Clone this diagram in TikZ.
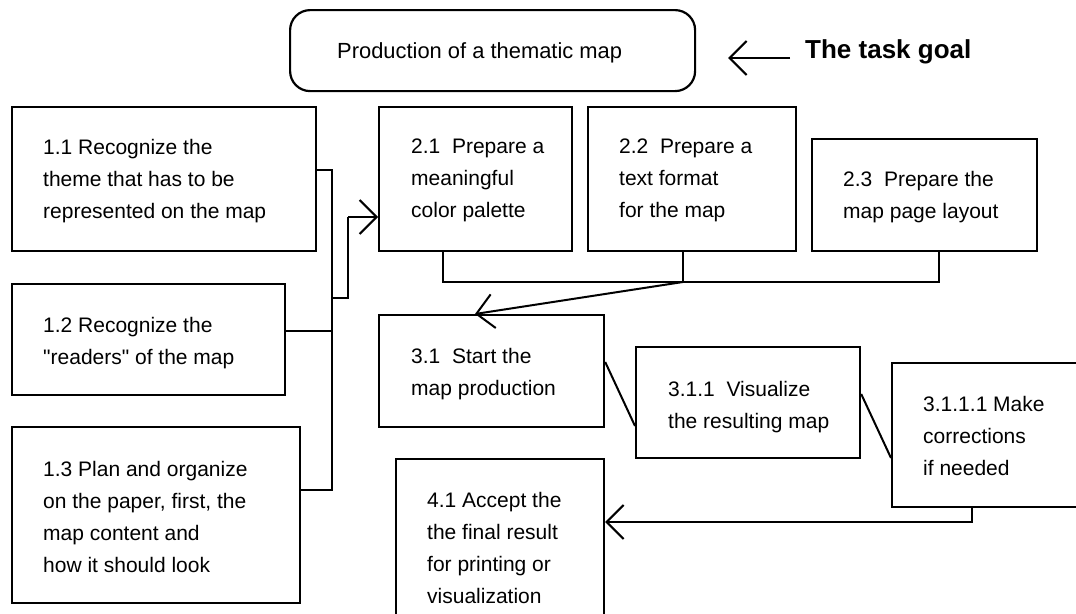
\documentclass[tikz,border=0pt]{standalone}
\usepackage{fontspec}
\setmainfont{Liberation Sans}
\usetikzlibrary{arrows.meta}
\begin{document}
\begin{tikzpicture}[x=1pt,y=-1pt,
  box/.style={draw, line width=2.2pt, inner sep=0pt, anchor=north west},
  txt/.style={align=left, inner sep=0pt, anchor=north west, font=\fontsize{21}{32}\selectfont},
  conn/.style={line width=2pt},
  arr/.style={line width=2pt, -{Straight Barb[length=17pt,width=34pt,line width=2pt]}}]
\useasboundingbox (0,0) rectangle (1076,613);
\clip (0,0) rectangle (1076,613);
% boxes
\node[box, rounded corners=20pt, minimum width=405pt, minimum height=81pt] (goal) at (289,9) {};
\node[box, minimum width=304pt, minimum height=144pt] (b11) at (11,106) {};
\node[box, minimum width=273pt, minimum height=111pt] (b12) at (11,283) {};
\node[box, minimum width=288pt, minimum height=176pt] (b13) at (11,426) {};
\node[box, minimum width=193pt, minimum height=144pt] (b21) at (378,106) {};
\node[box, minimum width=208pt, minimum height=144pt] (b22) at (587,106) {};
\node[box, minimum width=225pt, minimum height=112pt] (b23) at (811,138) {};
\node[box, minimum width=225pt, minimum height=112pt] (b31) at (378,314) {};
\node[box, minimum width=224pt, minimum height=111pt] (b311) at (635,346) {};
\node[box, minimum width=220pt, minimum height=144pt] (b3111) at (891,362) {};
\node[box, minimum width=208pt, minimum height=190pt] (b41) at (395,458) {};
% texts
\node[inner sep=0pt, anchor=base west, font=\fontsize{21.9}{26}\selectfont] (tgoal) at (337,58) {Production of a thematic map};
\node[inner sep=0pt, anchor=base west, font=\bfseries\fontsize{26}{30}\selectfont] (tg) at (805,58) {The task goal};
\node[txt] (t11) at (43,139) {1.1 Recognize the\\theme that has to be\\represented on the map};
\node[txt] (t12) at (43,317) {1.2 Recognize the\\\textquotedbl readers\textquotedbl{} of the map};
\node[txt] (t13) at (43,461) {1.3 Plan and organize\\on the paper, first, the\\map content and\\how it should look};
\node[txt] (t21) at (411,139) {2.1\ \ Prepare a\\meaningful\\color palette};
\node[txt] (t22) at (619,139) {2.2\ \ Prepare a\\text format\\for the map};
\node[txt] (t23) at (843,171) {2.3\ \ Prepare the\\map page layout};
\node[txt] (t31) at (411,348) {3.1\ \ Start the\\map production};
\node[txt] (t311) at (668,381) {3.1.1\ \ Visualize\\the resulting map};
\node[txt] (t3111) at (923,396) {3.1.1.1 Make\\corrections\\if needed};
\node[txt] (t41) at (427,492) {4.1 Accept the\\the final result\\for printing or\\visualization};
% junction coordinates
\coordinate (j1) at (332,170);
\coordinate (j2) at (332,331);
\coordinate (j3) at (332,490);
\coordinate (j4) at (332,298);
\coordinate (j5) at (348,298);
\coordinate (j6) at (348,217);
\coordinate (k1) at (443,282);
\coordinate (k2) at (683,282);
\coordinate (k3) at (939,282);
\coordinate (k4) at (475,314);
\coordinate (m1) at (603,362);
\coordinate (m2) at (635,426);
\coordinate (n1) at (859,394);
\coordinate (n2) at (891,458);
\coordinate (p1) at (972,522);
% connectors
\draw[arr] ([xshift=-15pt]tg.base west) -- ([xshift=32pt]goal.east |- tg.base west);
\draw[conn] (b11.east |- j1) -- (j1) -- (j3) -- (b13.east |- j3);
\draw[conn] (b12.east |- j2) -- (j2);
\draw[conn] (j4) -- (j5) -- (j6);
\draw[arr] (j6) -- (b21.west |- j6);
\draw[conn] (b21.south -| k1) -- (k1) -- (k3) -- (b23.south -| k3);
\draw[conn] (b22.south -| k2) -- (k2);
\draw[arr] (k2) -- (b31.north -| k4);
\draw[conn] (b31.east |- m1) -- (b311.west |- m2);
\draw[conn] (b311.east |- n1) -- (b3111.west |- n2);
\draw[arr] (b3111.south -| p1) -- (p1) -- (b41.east |- p1);
\end{tikzpicture}
\end{document}
